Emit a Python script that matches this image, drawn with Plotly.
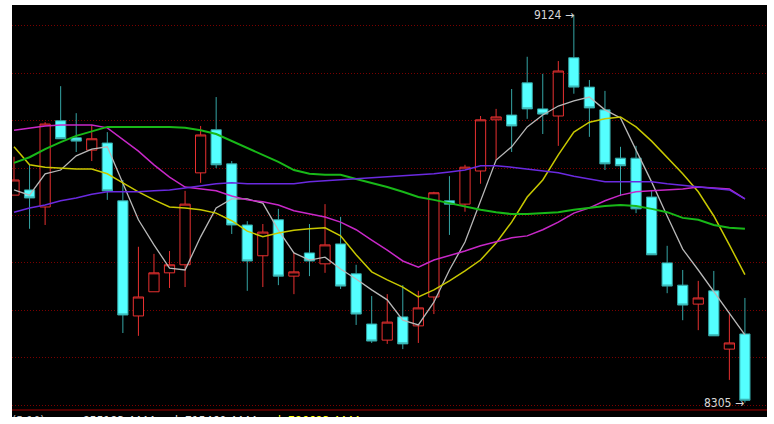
import plotly.graph_objects as go

# ---- data ----
idx = list(range(1, 49))
opens = [8743, 8754, 8718, 8900, 8864, 8838, 8853, 8731, 8488, 8539, 8579, 8596,
         8790, 8881, 8809, 8680, 8615, 8691, 8572, 8621, 8598, 8640, 8577, 8471,
         8437, 8486, 8467, 8528, 8731, 8724, 8794, 8902, 8912, 8980, 8925, 8910,
         9033, 8971, 8923, 8821, 8821, 8739, 8600, 8553, 8513, 8541, 8418, 8450]
highs = [8824, 8807, 8897, 8973, 8916, 8891, 8876, 8775, 8634, 8619, 8625, 8752,
         8889, 8950, 8815, 8688, 8682, 8714, 8621, 8682, 8724, 8697, 8596, 8530,
         8534, 8553, 8541, 8750, 8783, 8807, 8910, 8925, 8967, 9035, 8999, 9026,
         9124, 8986, 8963, 8845, 8847, 8754, 8636, 8585, 8562, 8583, 8492, 8526]
lows = [8743, 8672, 8680, 8862, 8834, 8815, 8733, 8452, 8446, 8539, 8547, 8549,
        8769, 8800, 8661, 8541, 8549, 8553, 8534, 8572, 8579, 8545, 8469, 8431,
        8429, 8418, 8431, 8492, 8659, 8708, 8767, 8817, 8834, 8904, 8872, 8847,
        8957, 8866, 8796, 8741, 8705, 8617, 8536, 8479, 8458, 8446, 8353, 8305]
closes = [8775, 8737, 8893, 8862, 8857, 8862, 8752, 8490, 8528, 8579, 8596, 8724,
          8870, 8807, 8680, 8604, 8665, 8572, 8581, 8604, 8638, 8551, 8492, 8435,
          8475, 8429, 8505, 8748, 8724, 8802, 8902, 8908, 8889, 8925, 8914, 9005,
          8971, 8927, 8809, 8805, 8714, 8617, 8551, 8511, 8526, 8446, 8431, 8310]

ma5 = [8754, 8743, 8788, 8796, 8826, 8840, 8845, 8769, 8691, 8638, 8589, 8585,
       8655, 8716, 8735, 8735, 8726, 8669, 8621, 8606, 8612, 8587, 8566, 8543,
       8522, 8479, 8469, 8517, 8585, 8644, 8729, 8817, 8845, 8887, 8912, 8931,
       8942, 8950, 8923, 8906, 8838, 8771, 8699, 8629, 8585, 8539, 8492, 8448]
ma10 = [8845, 8807, 8802, 8800, 8798, 8798, 8788, 8769, 8750, 8733, 8718, 8716,
        8712, 8705, 8689, 8667, 8655, 8663, 8669, 8672, 8674, 8657, 8617, 8581,
        8564, 8549, 8528, 8543, 8562, 8583, 8606, 8642, 8686, 8739, 8775, 8828,
        8876, 8897, 8904, 8908, 8887, 8857, 8823, 8788, 8750, 8699, 8638, 8575]
ma20 = [8880, 8885, 8889, 8891, 8891, 8891, 8885, 8861, 8836, 8807, 8781, 8760,
        8756, 8752, 8741, 8733, 8729, 8722, 8710, 8703, 8697, 8686, 8670, 8648,
        8627, 8604, 8591, 8606, 8615, 8625, 8636, 8644, 8653, 8657, 8670, 8686,
        8705, 8716, 8731, 8743, 8750, 8752, 8754, 8756, 8760, 8758, 8756, 8735]
ma30 = [8811, 8823, 8840, 8855, 8868, 8878, 8887, 8887, 8887, 8887, 8887, 8885,
        8880, 8872, 8857, 8843, 8828, 8813, 8796, 8788, 8786, 8786, 8777, 8769,
        8760, 8750, 8739, 8733, 8726, 8718, 8712, 8707, 8703, 8703, 8705, 8707,
        8712, 8716, 8720, 8722, 8720, 8714, 8707, 8695, 8691, 8680, 8674, 8672]
ma60 = [8707, 8716, 8722, 8731, 8737, 8745, 8750, 8750, 8750, 8752, 8754, 8758,
        8762, 8767, 8769, 8767, 8767, 8767, 8767, 8771, 8773, 8775, 8777, 8779,
        8781, 8783, 8786, 8788, 8792, 8796, 8805, 8805, 8802, 8798, 8794, 8790,
        8783, 8777, 8771, 8771, 8771, 8771, 8767, 8764, 8760, 8758, 8754, 8735]

ma_names = ["MA5", "MA10", "MA20", "MA30", "MA60"]
ma_colors = ["#b8b8b8", "#c8c800", "#c828c8", "#18b818", "#6a2ae0"]
ma_widths = [1.3, 1.5, 1.5, 2, 1.5]

footer_text = ["(5,10)", "855183.4444", "l: 715460.4444", "l: 786683.4444"]
footer_x = [12, 83, 175, 278]
footer_colors = ["#c0c0c0", "#e0e0e0", "#e0e0e0", "#ffff00"]

hi_label = "9124 →"
lo_label = "8305 →"

FONT = "Liberation Sans Narrow, DejaVu Sans Condensed, sans-serif"

# ---- figure ----
fig = go.Figure()

fig.add_trace(go.Candlestick(
    x=idx, open=opens, high=highs, low=lows, close=closes,
    increasing=dict(line=dict(color="#e83030", width=1), fillcolor="#000000"),
    decreasing=dict(line=dict(color="#35a5a5", width=1), fillcolor="#54ffff"),
    whiskerwidth=0, hoverinfo="skip", showlegend=False,
))

for name, vals, col, w in zip(ma_names, [ma5, ma10, ma20, ma30, ma60], ma_colors, ma_widths):
    fig.add_trace(go.Scatter(x=idx, y=vals, mode="lines", name=name,
                             line=dict(color=col, width=w), hoverinfo="skip",
                             showlegend=False))

X0, X1 = 0.871, 49.42
Y0, Y1 = 8274.7, 9144.3
px_per_x = 755 / (X1 - X0)

# footer indicator text (clipped at the bottom of the black panel, as in the reference)
for t, xp, c in zip(footer_text, footer_x, footer_colors):
    fig.add_trace(go.Scatter(
        x=[X0 + (xp - 12) / px_per_x], y=[Y0 - 5.2 * 2.1108], mode="text", text=[t],
        textposition="middle right", cliponaxis=True,
        textfont=dict(color=c, size=12, family=FONT),
        hoverinfo="skip", showlegend=False))

fig.add_shape(type="line", xref="paper", yref="y", x0=0, x1=1, y0=8289.5, y1=8289.5,
              line=dict(color="#a00000", width=1))

fig.add_annotation(x=37, y=highs[36], text=hi_label, showarrow=False,
                   xanchor="right", yanchor="middle", xshift=2,
                   font=dict(color="#d8d8d8", size=12, family=FONT))
fig.add_annotation(x=48, y=lows[47], text=lo_label, showarrow=False,
                   xanchor="right", yanchor="middle", xshift=1,
                   font=dict(color="#d8d8d8", size=12, family=FONT))

fig.update_layout(
    width=774, height=424,
    margin=dict(l=12, r=7, t=5, b=7),
    paper_bgcolor="#ffffff", plot_bgcolor="#000000",
    boxgap=0.06,
    showlegend=False,
    xaxis=dict(range=[X0, X1], showgrid=False, zeroline=False, showticklabels=False,
               ticks="", rangeslider=dict(visible=False), fixedrange=True),
    yaxis=dict(range=[Y0, Y1], tick0=8300, dtick=100, showgrid=True,
               gridcolor="#7a0000", griddash="1px,2px", gridwidth=1, zeroline=False,
               showticklabels=False, ticks="", fixedrange=True),
)

fig.write_html("out.html", config={"displayModeBar": False},
               post_script="document.body.style.margin='0px';document.body.style.overflow='hidden';")
